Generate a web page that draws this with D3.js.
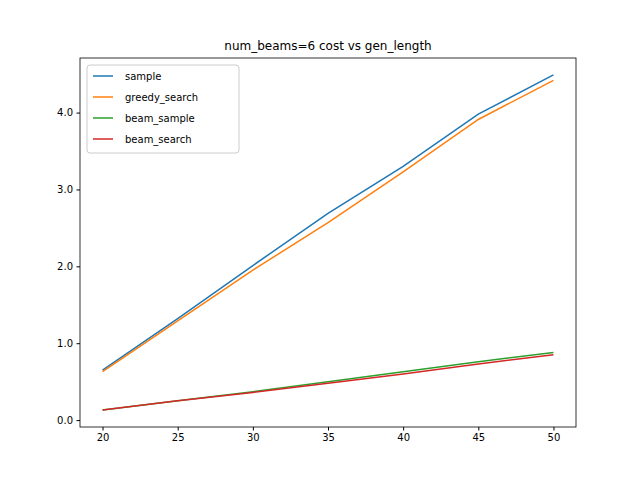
<!DOCTYPE html>
<html><head><meta charset="utf-8">
<script src="https://cdn.jsdelivr.net/npm/d3@7"></script>
<style>body{margin:0;background:#fff}text{font-family:"DejaVu Sans",sans-serif}</style>
</head><body>
<script>
const genLength = [20, 25, 30, 35, 40, 45, 50];
const sample = [0.65, 1.32, 2.01, 2.69, 3.30, 3.98, 4.49];
const greedySearch = [0.63, 1.29, 1.95, 2.57, 3.23, 3.91, 4.42];
const beamSample = [0.13, 0.25, 0.37, 0.50, 0.63, 0.76, 0.88];
const beamSearch = [0.13, 0.25, 0.36, 0.48, 0.60, 0.73, 0.85];
const series = [
  {name: "sample", values: sample, color: "#1f77b4"},
  {name: "greedy_search", values: greedySearch, color: "#ff7f0e"},
  {name: "beam_sample", values: beamSample, color: "#2ca02c"},
  {name: "beam_search", values: beamSearch, color: "#d62728"}
];

const width = 640, height = 480;
const mLeft = 80, mRight = 576, mTop = 58, mBottom = 427;

const svg = d3.select("body").append("svg").attr("width", width).attr("height", height);

const x = d3.scaleLinear().domain([18.5, 51.5]).range([mLeft, mRight]);
const y = d3.scaleLinear().domain([-0.09, 4.71]).range([mBottom, mTop]);

const xAxis = svg.append("g").attr("transform", `translate(0,${mBottom})`)
  .call(d3.axisBottom(x).tickValues([20, 25, 30, 35, 40, 45, 50]).tickSize(3.5).tickPadding(3.5));
const yAxis = svg.append("g").attr("transform", `translate(${mLeft},0)`)
  .call(d3.axisLeft(y).tickValues([0, 1, 2, 3, 4]).tickSize(3.5).tickPadding(3.5));
[xAxis, yAxis].forEach(a => {
  a.selectAll("text").style("font-size", "10px").attr("fill", "#000");
  a.selectAll("line").attr("stroke", "#000");
  a.select(".domain").remove();
});

svg.append("rect").attr("x", mLeft).attr("y", mTop).attr("width", mRight - mLeft).attr("height", mBottom - mTop)
  .attr("fill", "none").attr("stroke", "#000").attr("stroke-width", 0.8);

const line = d3.line().x((d, i) => x(genLength[i])).y(d => y(d));
series.forEach(s => {
  svg.append("path").datum(s.values).attr("d", line)
    .attr("fill", "none").attr("stroke", s.color).attr("stroke-width", 1.5);
});

svg.append("text").attr("x", (mLeft + mRight) / 2).attr("y", mTop - 8).attr("text-anchor", "middle")
  .style("font-size", "12px").text("num_beams=6 cost vs gen_length");

const lg = svg.append("g").attr("transform", `translate(${mLeft + 7},${mTop + 7})`);
lg.append("rect").attr("width", 152).attr("height", 88).attr("rx", 3)
  .attr("fill", "#fff").attr("fill-opacity", 0.8).attr("stroke", "#ccc");
series.forEach((s, i) => {
  const yy = 11 + i * 21;
  lg.append("line").attr("x1", 6).attr("x2", 26).attr("y1", yy).attr("y2", yy)
    .attr("stroke", s.color).attr("stroke-width", 1.5);
  lg.append("text").attr("x", 38).attr("y", yy + 4).style("font-size", "10px").text(s.name);
});
</script>
</body></html>
